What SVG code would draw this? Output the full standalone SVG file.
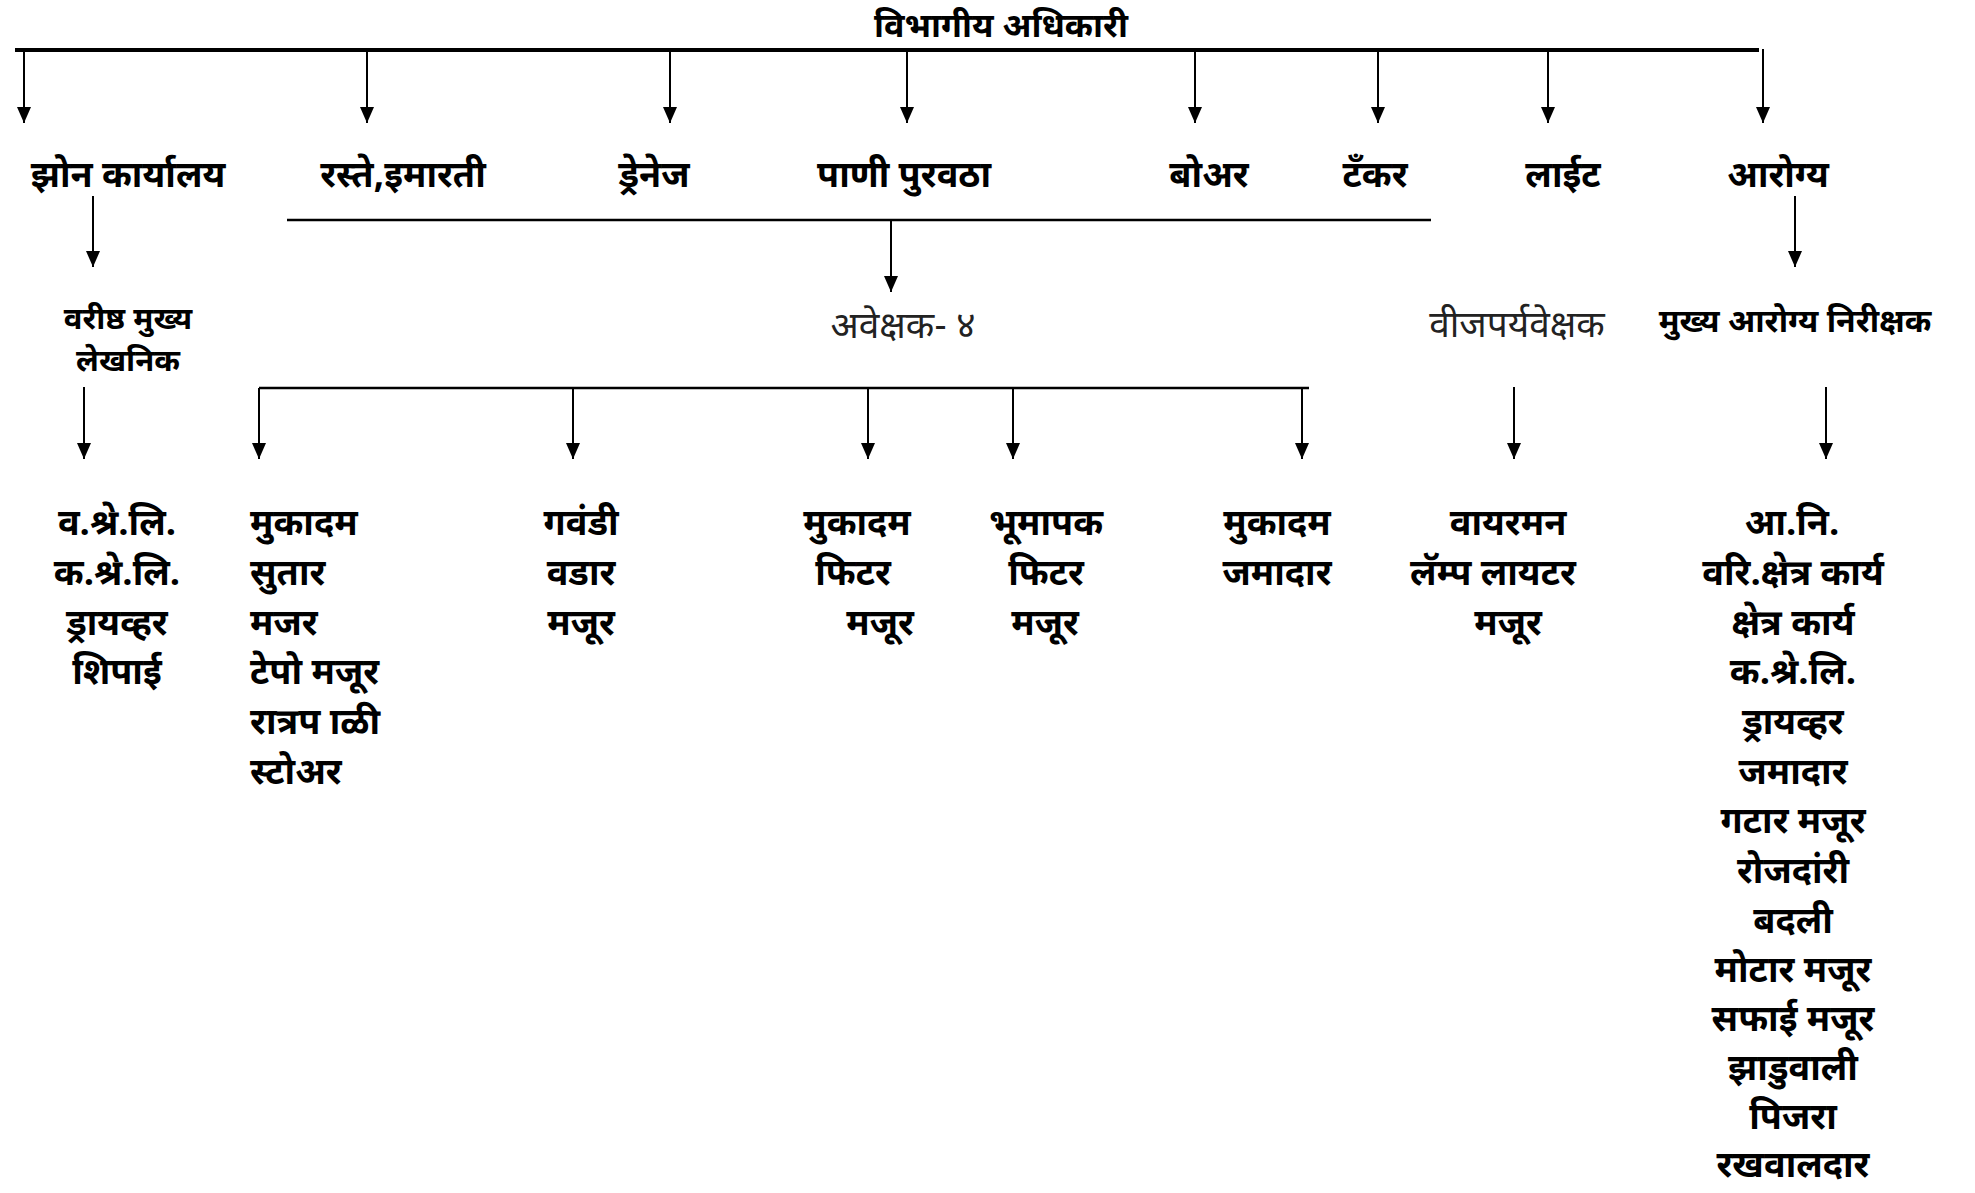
<svg xmlns="http://www.w3.org/2000/svg" width="1975" height="1193" viewBox="0 0 1975 1193">
<defs>
<marker id="ah" markerUnits="userSpaceOnUse" markerWidth="16" markerHeight="14" refX="16" refY="7" orient="auto">
<path d="M0,0 L16,7 L0,14 z" fill="#000"/>
</marker>
<style>
text{font-family:"Noto Sans Devanagari","Lohit Devanagari","Noto Sans",sans-serif;fill:#000;text-anchor:middle}
.t{font-weight:bold;font-size:34px}
.b{font-weight:bold;font-size:36px}
.s{font-weight:bold;font-size:31px}
.m{font-weight:bold;font-size:32px}
.n{font-weight:normal;font-size:37px;fill:#222}
.l{text-anchor:start}
.c line{stroke:#000;stroke-width:2}
.c .a{marker-end:url(#ah)}
</style>
</defs>
<rect width="1975" height="1193" fill="#fff"/>
<g class="c" id="connectors">
<line x1="15" y1="50" x2="1759" y2="50" style="stroke-width:4"/>
<line class="a" x1="24" y1="50" x2="24" y2="123"/>
<line class="a" x1="367" y1="50" x2="367" y2="123"/>
<line class="a" x1="670" y1="50" x2="670" y2="123"/>
<line class="a" x1="907" y1="50" x2="907" y2="123"/>
<line class="a" x1="1195" y1="50" x2="1195" y2="123"/>
<line class="a" x1="1378" y1="50" x2="1378" y2="123"/>
<line class="a" x1="1548" y1="50" x2="1548" y2="123"/>
<line class="a" x1="1763" y1="49" x2="1763" y2="123"/>
<line x1="287" y1="220" x2="1431" y2="220" style="stroke-width:2.5"/>
<line class="a" x1="891" y1="220" x2="891" y2="292"/>
<line class="a" x1="93" y1="196" x2="93" y2="267"/>
<line class="a" x1="1795" y1="196" x2="1795" y2="267"/>
<line x1="259" y1="388" x2="1309" y2="388" style="stroke-width:2.5"/>
<line class="a" x1="259" y1="388" x2="259" y2="459"/>
<line class="a" x1="573" y1="388" x2="573" y2="459"/>
<line class="a" x1="868" y1="388" x2="868" y2="459"/>
<line class="a" x1="1013" y1="388" x2="1013" y2="459"/>
<line class="a" x1="1302" y1="388" x2="1302" y2="459"/>
<line class="a" x1="84" y1="387" x2="84" y2="459"/>
<line class="a" x1="1514" y1="387" x2="1514" y2="459"/>
<line class="a" x1="1826" y1="387" x2="1826" y2="459"/>
</g>
<g id="n-vibhagiya"><text class="t" x="1001" y="37">विभागीय अधिकारी</text></g>
<g id="n-zone"><text class="b" x="128" y="187">झोन कार्यालय</text></g>
<g id="n-raste"><text class="b" x="403" y="187">रस्ते,इमारती</text></g>
<g id="n-drainage"><text class="b" x="654" y="187">ड्रेनेज</text></g>
<g id="n-pani"><text class="b" x="904" y="187">पाणी पुरवठा</text></g>
<g id="n-bore"><text class="b" x="1209" y="187">बोअर</text></g>
<g id="n-tanker"><text class="b" x="1375" y="187">टँकर</text></g>
<g id="n-light"><text class="b" x="1563" y="187">लाईट</text></g>
<g id="n-arogya"><text class="b" x="1778" y="187">आरोग्य</text></g>
<g id="n-lekhnik"><text class="s" x="128" y="329">वरीष्ठ मुख्य</text><text class="s" x="128" y="371">लेखनिक</text></g>
<g id="n-avekshak"><text class="n" x="903" y="338">अवेक्षक- ४</text></g>
<g id="n-vij"><text class="n" x="1517" y="337">वीजपर्यवेक्षक</text></g>
<g id="n-mukhya"><text class="m" x="1795" y="332">मुख्य आरोग्य निरीक्षक</text></g>
<g id="n-zone-staff">
<text class="b" x="117" y="535">व.श्रे.लि.</text>
<text class="b" x="117" y="585">क.श्रे.लि.</text>
<text class="b" x="117" y="635">ड्रायव्हर</text>
<text class="b" x="117" y="684">शिपाई</text>
</g>
<g id="n-raste-staff">
<text class="b l" x="250" y="535">मुकादम</text>
<text class="b l" x="250" y="585">सुतार</text>
<text class="b l" x="250" y="635">मजर</text>
<text class="b l" x="250" y="684">टेपो मजूर</text>
<text class="b l" x="250" y="734">रात्रप&#160;ाळी</text>
<text class="b l" x="250" y="784">स्टोअर</text>
</g>
<g id="n-gavandi">
<text class="b" x="581" y="535">गवंडी</text>
<text class="b" x="581" y="585">वडार</text>
<text class="b" x="581" y="635">मजूर</text>
</g>
<g id="n-pani-staff">
<text class="b" x="857" y="535">मुकादम</text>
<text class="b" x="853" y="585">फिटर</text>
<text class="b" x="880" y="635">मजूर</text>
</g>
<g id="n-bhumapak">
<text class="b" x="1046" y="535">भूमापक</text>
<text class="b" x="1046" y="585">फिटर</text>
<text class="b" x="1045" y="635">मजूर</text>
</g>
<g id="n-jamadar">
<text class="b" x="1277" y="535">मुकादम</text>
<text class="b" x="1277" y="585">जमादार</text>
</g>
<g id="n-light-staff">
<text class="b" x="1508" y="535">वायरमन</text>
<text class="b" x="1493" y="585">लॅम्प लायटर</text>
<text class="b" x="1508" y="635">मजूर</text>
</g>
<g id="n-arogya-staff">
<text class="b" x="1792" y="535">आ.नि.</text>
<text class="b" x="1793" y="585">वरि.क्षेत्र कार्य</text>
<text class="b" x="1793" y="635">क्षेत्र कार्य</text>
<text class="b" x="1793" y="684">क.श्रे.लि.</text>
<text class="b" x="1793" y="734">ड्रायव्हर</text>
<text class="b" x="1793" y="784">जमादार</text>
<text class="b" x="1793" y="833">गटार मजूर</text>
<text class="b" x="1793" y="883">रोजदांरी</text>
<text class="b" x="1793" y="933">बदली</text>
<text class="b" x="1793" y="982">मोटार मजूर</text>
<text class="b" x="1793" y="1031">सफाई मजूर</text>
<text class="b" x="1793" y="1080">झाडुवाली</text>
<text class="b" x="1793" y="1129">पिजरा</text>
<text class="b" x="1793" y="1177">रखवालदार</text>
</g>
</svg>
